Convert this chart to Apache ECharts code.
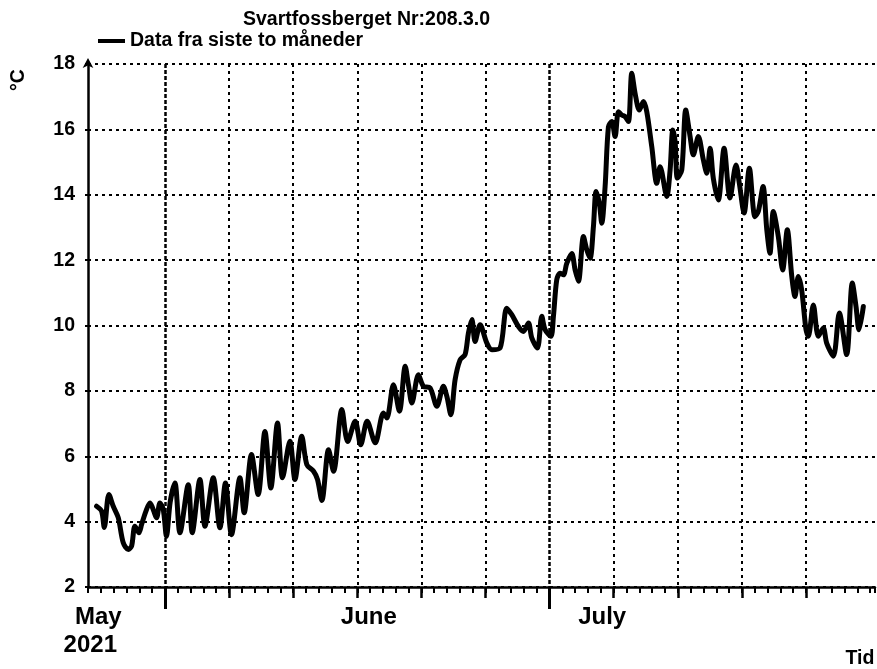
<!DOCTYPE html>
<html>
<head>
<meta charset="utf-8">
<script src="https://cdn.jsdelivr.net/npm/echarts@6/dist/echarts.min.js"></script>
<style>html,body{margin:0;padding:0;background:#fff}#chart{width:877px;height:669px}</style>
</head>
<body>
<div id="chart"></div>
<script>
// ---- data ----
const titleText = 'Svartfossberget Nr:208.3.0';
const seriesName = 'Data fra siste to måneder';
const yUnit = '°C';
const xName = 'Tid';
// time in days since 2021-06-01 00:00
const dayOffset = [
  -5.33, -4.94, -4.73, -4.37, -4.03, -3.64, -3.25, -2.86, -2.60, -2.34,
  -2.03, -1.82, -1.50, -1.17, -0.99, -0.65, -0.39, -0.13, 0.12, 0.41,
  0.78, 1.17, 1.82, 2.13, 2.73, 3.12, 3.77, 4.29, 4.72, 5.19,
  5.85, 6.18, 6.75, 7.27, 7.80, 8.26, 8.78, 9.17, 9.75, 10.14,
  10.67, 11.07, 11.59, 11.90, 12.24, 12.76, 13.15, 13.80, 14.25, 14.84,
  15.27, 15.77, 16.40, 17.04, 17.31, 17.82, 18.29, 18.74, 18.99, 19.26,
  19.77, 20.16, 20.68, 21.21, 21.72, 21.99, 22.30, 22.63, 23.02, 23.41,
  23.67, 23.94, 24.19, 24.58, 25.11, 25.50, 26.14, 26.66, 27.05, 27.57,
  27.96, 28.35, 28.61, 29.05, 29.39, 29.65, 30.10, 30.30, 30.56, 30.82,
  31.08, 31.34, 31.73, 31.99, 32.25, 32.64, 32.90, 33.16, 33.42, 33.63,
  33.88, 34.07, 34.33, 34.59, 34.85, 35.11, 35.37, 35.63, 35.89, 36.15,
  36.41, 36.67, 37.00, 37.32, 37.58, 37.97, 38.36, 38.62, 39.14, 39.40,
  39.61, 39.79, 39.97, 40.31, 40.62, 40.96, 41.21, 41.60, 41.99, 42.26,
  42.52, 42.77, 43.16, 43.61, 44.07, 44.54, 44.80, 45.17, 45.58, 46.02,
  46.28, 46.65, 46.94, 47.19, 47.45, 47.84, 48.18, 48.54, 48.89, 49.14,
  49.40, 49.66, 50.00, 50.18, 50.57, 50.96, 51.35, 51.61, 52.13, 52.60,
  53.17, 53.61, 53.90, 54.13, 54.47
];
const temperature = [
  4.47, 4.32, 3.82, 4.83, 4.47, 4.12, 3.35, 3.15, 3.25, 3.86,
  3.66, 3.91, 4.30, 4.57, 4.45, 4.12, 4.57, 4.37, 3.55, 4.60,
  5.18, 3.66, 5.13, 3.66, 5.29, 3.86, 5.34, 3.81, 5.18, 3.60,
  5.34, 4.27, 6.05, 4.83, 6.76, 5.03, 7.02, 5.34, 6.46, 5.29,
  6.61, 5.74, 5.54, 5.29, 4.65, 6.20, 5.54, 7.43, 6.45, 7.07,
  6.35, 7.07, 6.41, 7.32, 7.17, 8.19, 7.38, 8.75, 8.19, 7.63,
  8.49, 8.14, 8.09, 7.53, 8.14, 7.83, 7.27, 8.34, 8.95, 9.11,
  9.77, 10.18, 9.51, 10.02, 9.46, 9.26, 9.31, 10.53, 10.33, 9.97,
  9.82, 10.08, 9.62, 9.31, 10.28, 9.87, 9.67, 10.28, 11.40, 11.60,
  11.55, 11.90, 12.20, 11.70, 11.35, 12.72, 12.32, 12.06, 13.03, 14.10,
  13.74, 13.13, 14.25, 16.08, 16.24, 15.78, 16.54, 16.44, 16.39, 16.24,
  17.72, 17.10, 16.59, 16.85, 16.54, 15.47, 14.35, 14.86, 13.95, 14.76,
  15.98, 15.63, 14.51, 14.76, 16.59, 15.78, 15.22, 15.78, 15.07, 14.66,
  15.42, 14.50, 13.84, 15.42, 13.90, 14.91, 14.35, 13.44, 14.81, 13.33,
  13.49, 14.25, 12.93, 12.21, 13.49, 12.72, 11.70, 12.93, 11.50, 10.89,
  11.50, 11.09, 9.87, 9.67, 10.63, 9.67, 9.92, 9.46, 9.06, 10.38,
  9.11, 11.30, 10.58, 9.87, 10.58
];
const xRange = [-6, 55.38];            // 2021-05-26 .. 2021-07-26
const majorTickDays = [5, 10, 15, 20, 25, 35, 40, 45, 50];
const monthStartDays = [0, 30];        // June 1, July 1
const monthLabels = ['May', 'June', 'July'];
const yearLabel = '2021';
const monthLabelDays = [-5.82, 15.9, 34.1];
const yRange = [2, 18];
const yStep = 2;

// ---- chart ----
const FONT = '"Liberation Sans", Arial, Helvetica, sans-serif';
const chart = echarts.init(document.getElementById('chart'), null, {renderer: 'canvas'});
const seriesData = dayOffset.map((d, i) => [d, temperature[i]]);
const baseX = {type: 'value', min: xRange[0], max: xRange[1], position: 'bottom', gridIndex: 0};
const labelStyle = {fontFamily: FONT, fontSize: 24, fontWeight: 'bold', color: '#000', lineHeight: 28};

chart.setOption({
  animation: false,
  backgroundColor: '#fff',
  title: {
    text: titleText, left: 243, top: 10, padding: 0,
    textStyle: {fontFamily: FONT, fontSize: 19.5, fontWeight: 'bold', color: '#000'}
  },
  legend: {
    left: 98, top: 31, padding: 0,
    icon: 'rect', itemWidth: 27, itemHeight: 4,
    data: [seriesName],
    textStyle: {fontFamily: FONT, fontSize: 19.5, fontWeight: 'bold', color: '#000'}
  },
  grid: {left: 88, right: 2, top: 64, bottom: 82, containLabel: false},
  xAxis: [
    Object.assign({}, baseX, {
      interval: 1,
      axisLine: {show: true, onZero: false, lineStyle: {color: '#000', width: 2.5}},
      axisTick: {show: true, length: 6, lineStyle: {color: '#000', width: 2}},
      axisLabel: {show: false}, splitLine: {show: false}
    }),
    Object.assign({}, baseX, {
      axisLine: {show: false, onZero: false},
      axisTick: {show: true, customValues: majorTickDays, length: 11, lineStyle: {color: '#000', width: 2.5}},
      axisLabel: {show: false},
      splitLine: {show: true, lineStyle: {color: '#000', width: 2, type: [3, 4]}}
    }),
    Object.assign({}, baseX, {
      axisLine: {show: false, onZero: false},
      axisTick: {show: true, customValues: monthStartDays, length: 22, lineStyle: {color: '#000', width: 3}},
      axisLabel: {show: false},
      splitLine: {show: true, lineStyle: {color: '#000', width: 2.5, type: [4, 2]}}
    }),
    Object.assign({}, baseX, {
      axisLine: {show: false, onZero: false},
      axisTick: {show: false},
      splitLine: {show: false},
      axisLabel: {
        show: true, customValues: monthLabelDays, margin: 16,
        formatter: function (v) {
          let idx = -1;
          monthLabelDays.forEach((d, i) => { if (Math.abs(d - v) < 1e-6) idx = i; });
          if (idx < 0) return '';
          if (idx === 0) return '{m|' + monthLabels[0] + '}\n{n|' + yearLabel + '}';
          return '{n|' + monthLabels[idx] + '}';
        },
        rich: {
          m: Object.assign({}, labelStyle, {padding: [0, 0, 0, 16]}),
          n: Object.assign({}, labelStyle)
        }
      }
    })
  ],
  yAxis: {
    type: 'value', min: yRange[0], max: yRange[1], interval: yStep,
    axisLine: {show: true, onZero: false, lineStyle: {color: '#000', width: 2.5}, symbol: ['none', 'arrow'], symbolSize: [8, 10], symbolOffset: [0, 6]},
    axisTick: {show: true, length: 3, lineStyle: {color: '#000', width: 2}},
    axisLabel: {color: '#000', fontFamily: FONT, fontSize: 19.5, fontWeight: 'bold', margin: 13},
    splitLine: {show: true, lineStyle: {color: '#000', width: 2, type: [3, 4]}}
  },
  graphic: [
    {type: 'text', x: 19, y: 80, rotation: Math.PI / 2,
     style: {text: yUnit, font: 'bold 19.5px ' + FONT, fill: '#000', align: 'center', verticalAlign: 'middle'}},
    {type: 'text', x: 860, y: 659,
     style: {text: xName, font: 'bold 19.5px ' + FONT, fill: '#000', align: 'center', verticalAlign: 'middle'}}
  ],
  series: [{
    name: seriesName, type: 'line', xAxisIndex: 0, yAxisIndex: 0,
    data: seriesData, showSymbol: false, symbol: 'none', smooth: 0.3,
    lineStyle: {color: '#000', width: 5, join: 'round', cap: 'round'},
    itemStyle: {color: '#000'}, z: 5
  }]
});
</script>
</body>
</html>
